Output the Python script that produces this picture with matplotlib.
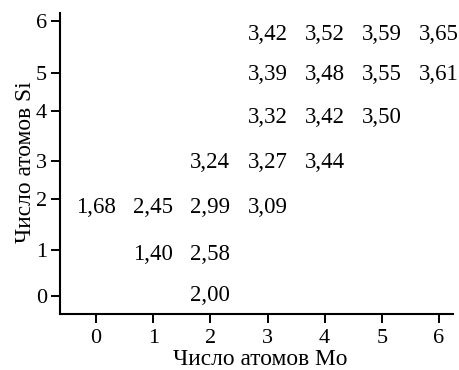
import matplotlib
matplotlib.use("Agg")
import matplotlib.pyplot as plt

# ---- data ----
mo_atoms = [3, 4, 5, 6,
            3, 4, 5, 6,
            3, 4, 5,
            2, 3, 4,
            0, 1, 2, 3,
            1, 2,
            2]
si_atoms = [6, 6, 6, 6,
            5, 5, 5, 5,
            4, 4, 4,
            3, 3, 3,
            2, 2, 2, 2,
            1, 1,
            0]
values = [3.42, 3.52, 3.59, 3.65,
          3.39, 3.48, 3.55, 3.61,
          3.32, 3.42, 3.50,
          3.24, 3.27, 3.44,
          1.68, 2.45, 2.99, 3.09,
          1.40, 2.58,
          2.00]
x_ticks = [0, 1, 2, 3, 4, 5, 6]
y_tick_labels = ["0", "1", "2", "3", "4", "5", "6"]

# ---- layout (the original's vertical spacing is irregular) ----
row_pos = {0: 0.07, 1: 0.96, 2: 1.99, 3: 2.97, 4: 3.94, 5: 4.89, 6: 5.76}
y_tick_pos = [0.0, 1.00, 2.12, 2.95, 4.04, 4.87, 6.0]

plt.rcParams["font.family"] = ["Liberation Serif", "DejaVu Serif"]
FS = 16.5
FS_TICK = 16
FS_LABEL = 16.8

fig = plt.figure(figsize=(4.59, 3.70), dpi=100)
ax = fig.add_axes([60 / 459, 1 - 314 / 370, 393 / 459, 301 / 370])

for mo, si, v in zip(mo_atoms, si_atoms, values):
    ax.text(mo, row_pos[si], f"{v:.2f}".replace(".", ","),
            ha="center", va="center_baseline", fontsize=FS, color="black")

ax.set_xlim(-0.63, 6.245)
ax.set_ylim(-0.39, 6.17)
ax.set_xticks(x_ticks)
ax.set_xticklabels([str(t) for t in x_ticks])
ax.set_yticks(y_tick_pos)
ax.set_yticklabels(y_tick_labels)

for s in ["top", "right"]:
    ax.spines[s].set_visible(False)
for s in ["left", "bottom"]:
    ax.spines[s].set_linewidth(1.5)

ax.tick_params(axis="both", direction="out", length=6.5, width=1.4,
               labelsize=FS_TICK, colors="black")
ax.tick_params(axis="x", pad=4)
ax.tick_params(axis="y", pad=3)

ax.set_xlabel("Число атомов Mo", fontsize=FS_LABEL)
ax.set_ylabel("Число атомов Si", fontsize=FS_LABEL)
ax.xaxis.set_label_coords(0.51, -0.117)
ax.yaxis.set_label_coords(-0.062, 0.505)

fig.savefig("out.png", dpi=100, facecolor="white")
